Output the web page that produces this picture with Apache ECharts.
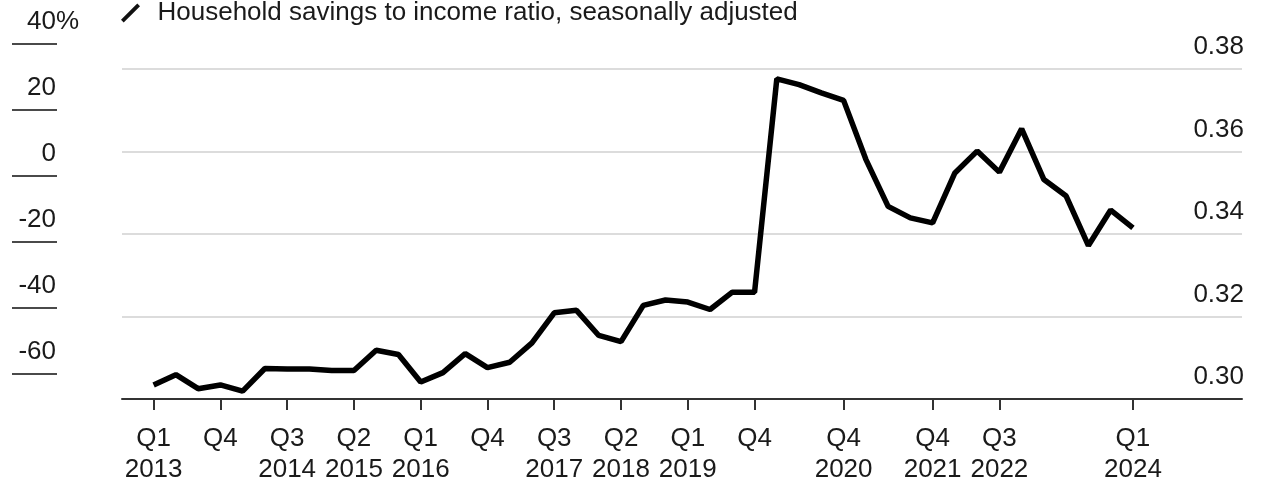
<!DOCTYPE html>
<html>
<head>
<meta charset="utf-8">
<script src="https://cdn.jsdelivr.net/npm/echarts@6/dist/echarts.min.js"></script>
<style>
  html, body { margin: 0; padding: 0; background: #fff; }
  #chart { width: 1268px; height: 481px; }
</style>
</head>
<body>
<div id="chart"></div>
<script>
// Household savings to income ratio, quarterly, Q1 2013 .. Q1 2024

const seriesName = 'Household savings to income ratio, seasonally adjusted';

// one value per quarter, starting Q1 2013
const savingsRatio = [
    0.3034, 0.3059, 0.3025, 0.3034, 0.3019, 0.3074, 0.3073, 0.3073, 0.3069, 0.3069,
    0.3118, 0.3108, 0.3041, 0.3064, 0.3110, 0.3076, 0.3089, 0.3136, 0.3209, 0.3215,
    0.3154, 0.3139, 0.3227, 0.3240, 0.3235, 0.3217, 0.3259, 0.3259, 0.3776, 0.3762,
    0.3742, 0.3724, 0.3581, 0.3467, 0.3439, 0.3427, 0.3548, 0.3601, 0.3550, 0.3655,
    0.3532, 0.3492, 0.3372, 0.3458, 0.3415
];

// ticks on the time axis (quarter index from Q1 2013) and their labels
const tickQuarters = [0, 3, 6, 9, 12, 15, 18, 21, 24, 27, 31, 35, 38, 44];
const tickLabels = [
    'Q1\n2013', 'Q4', 'Q3\n2014', 'Q2\n2015', 'Q1\n2016', 'Q4', 'Q3\n2017',
    'Q2\n2018', 'Q1\n2019', 'Q4', 'Q4\n2020', 'Q4\n2021', 'Q3\n2022', 'Q1\n2024'
];

// right axis ticks
const ratioTicks = [0.30, 0.32, 0.34, 0.36, 0.38];
// left (cropped) axis ticks
const pctTicks = [-60, -40, -20, 0, 20, 40];

const FONT = "'Liberation Sans', Arial, Helvetica, sans-serif";
const TEXT = '#1a1a1a';
const FS = 26;

const chart = echarts.init(document.getElementById('chart'), null, { renderer: 'canvas' });

chart.setOption({
    animation: false,
    backgroundColor: '#fff',
    textStyle: { fontFamily: FONT, color: TEXT },
    legend: {
        data: [seriesName],
        left: 121,
        top: 0,
        padding: 0,
        itemWidth: 44,
        itemHeight: 19,
        icon: 'path://M0,12 L12,0 L14,2 L2,14 Z',
        itemStyle: { color: '#111' },
        textStyle: { fontSize: FS, color: TEXT, fontFamily: FONT }
    },
    grid: [
        { left: 122, right: 26, top: 69, bottom: 82, outerBoundsMode: 'none', containLabel: false },
        { left: 12, right: 1211, top: 44, bottom: 107, outerBoundsMode: 'none', containLabel: false }
    ],
    xAxis: [
        {
            type: 'value',
            gridIndex: 0,
            min: -1.42,
            max: 48.9,
            splitLine: { show: false },
            axisLine: { show: true, lineStyle: { color: '#333', width: 2 } },
            axisTick: {
                show: true,
                length: 11,
                customValues: tickQuarters,
                lineStyle: { color: '#333', width: 2 }
            },
            axisLabel: {
                customValues: tickQuarters,
                margin: 24,
                fontSize: FS,
                lineHeight: 31,
                color: TEXT,
                fontFamily: FONT,
                formatter: v => tickLabels[tickQuarters.indexOf(Math.round(v))] || ''
            }
        },
        { type: 'value', gridIndex: 1, min: 0, max: 1, show: false }
    ],
    yAxis: [
        {
            type: 'value',
            gridIndex: 0,
            position: 'right',
            min: ratioTicks[0],
            max: ratioTicks[ratioTicks.length - 1],
            interval: 0.02,
            axisLine: { show: false },
            axisTick: { show: false },
            splitLine: { show: true, lineStyle: { color: '#dcdcdc', width: 2 } },
            axisLabel: {
                inside: true,
                margin: -2,
                verticalAlign: 'bottom',
                padding: [0, 0, 9, 0],
                fontSize: FS,
                color: TEXT,
                fontFamily: FONT,
                formatter: v => v.toFixed(2)
            }
        },
        {
            type: 'value',
            gridIndex: 1,
            position: 'right',
            min: pctTicks[0],
            max: pctTicks[pctTicks.length - 1],
            interval: 20,
            axisLine: { show: false },
            axisTick: { show: false },
            splitLine: { show: true, lineStyle: { color: '#4a4a4a', width: 2 } },
            axisLabel: {
                inside: true,
                margin: -22,
                verticalAlign: 'bottom',
                padding: [0, 0, 9, 0],
                fontSize: FS,
                color: TEXT,
                fontFamily: FONT,
                // "%" hangs to the right of the number column
                formatter: v => v === pctTicks[pctTicks.length - 1] ? '{p|' + v + '%}' : '{n|' + v + '}',
                rich: {
                    p: { fontSize: FS, color: TEXT, fontFamily: FONT },
                    n: { fontSize: FS, color: TEXT, fontFamily: FONT, padding: [0, 23, 0, 0] }
                }
            }
        }
    ],
    series: [
        {
            name: seriesName,
            type: 'line',
            xAxisIndex: 0,
            yAxisIndex: 0,
            symbol: 'none',
            lineStyle: { color: '#000', width: 5.5 },
            data: savingsRatio.map((v, i) => [i, v])
        },
        {
            name: 'pct',
            type: 'line',
            xAxisIndex: 1,
            yAxisIndex: 1,
            symbol: 'none',
            data: []
        }
    ]
});
</script>
</body>
</html>
